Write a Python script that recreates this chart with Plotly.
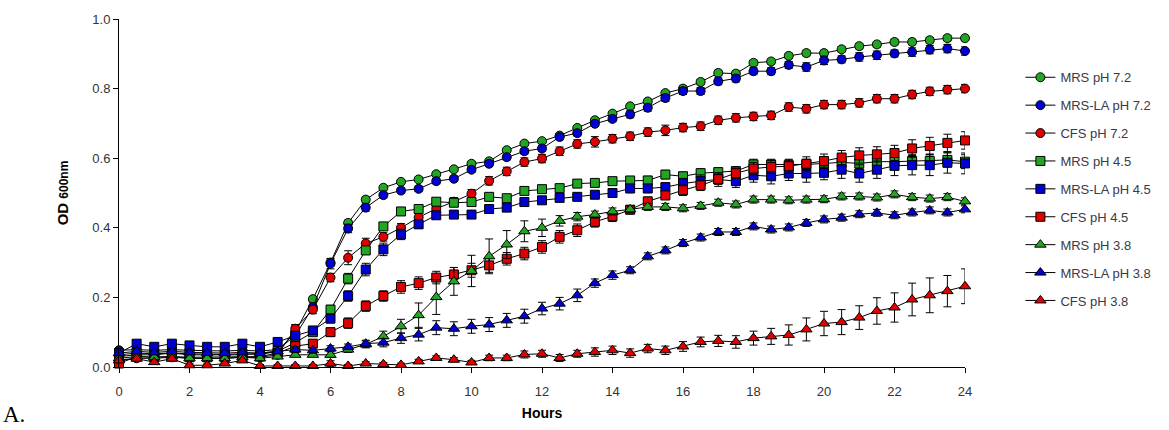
import plotly.graph_objects as go

# Sampling times (hours)
hours = [i * 0.5 for i in range(49)]

# OD600 means per condition
mrs_72 = [0.030, 0.035, 0.035, 0.040, 0.035, 0.035, 0.035, 0.035, 0.040, 0.045,
          0.100, 0.195, 0.300, 0.414, 0.481, 0.515, 0.532, 0.539, 0.554, 0.568,
          0.584, 0.591, 0.623, 0.642, 0.649, 0.665, 0.687, 0.709, 0.728, 0.749,
          0.763, 0.787, 0.800, 0.819, 0.845, 0.843, 0.874, 0.878, 0.894, 0.902,
          0.902, 0.913, 0.922, 0.927, 0.934, 0.934, 0.939, 0.945, 0.945]
mrsla_72 = [0.048, 0.050, 0.048, 0.050, 0.048, 0.046, 0.046, 0.048, 0.046, 0.050,
            0.090, 0.172, 0.297, 0.398, 0.458, 0.494, 0.507, 0.512, 0.534, 0.541,
            0.567, 0.584, 0.603, 0.620, 0.628, 0.661, 0.672, 0.699, 0.713, 0.726,
            0.745, 0.773, 0.793, 0.793, 0.821, 0.829, 0.850, 0.850, 0.868, 0.862,
            0.881, 0.884, 0.891, 0.896, 0.901, 0.905, 0.912, 0.915, 0.908]
cfs_72 = [0.020, 0.025, 0.025, 0.028, 0.025, 0.025, 0.025, 0.028, 0.028, 0.035,
          0.110, 0.165, 0.257, 0.314, 0.355, 0.374, 0.400, 0.430, 0.455, 0.475,
          0.498, 0.535, 0.562, 0.589, 0.599, 0.620, 0.641, 0.647, 0.656, 0.663,
          0.675, 0.680, 0.688, 0.692, 0.709, 0.716, 0.720, 0.723, 0.747, 0.742,
          0.754, 0.754, 0.759, 0.771, 0.771, 0.783, 0.792, 0.797, 0.800]
mrs_45 = [0.035, 0.040, 0.038, 0.040, 0.038, 0.036, 0.036, 0.038, 0.036, 0.045,
          0.070, 0.100, 0.165, 0.254, 0.335, 0.404, 0.447, 0.454, 0.475, 0.472,
          0.474, 0.489, 0.485, 0.506, 0.511, 0.514, 0.527, 0.529, 0.534, 0.536,
          0.536, 0.553, 0.548, 0.557, 0.560, 0.563, 0.582, 0.582, 0.580, 0.582,
          0.585, 0.588, 0.585, 0.590, 0.590, 0.592, 0.592, 0.595, 0.590]
mrsla_45 = [0.040, 0.067, 0.058, 0.067, 0.062, 0.058, 0.058, 0.067, 0.058, 0.072,
            0.090, 0.105, 0.139, 0.204, 0.280, 0.338, 0.381, 0.410, 0.436, 0.438,
            0.438, 0.454, 0.458, 0.474, 0.479, 0.486, 0.489, 0.495, 0.500, 0.513,
            0.513, 0.517, 0.527, 0.534, 0.539, 0.534, 0.551, 0.548, 0.556, 0.556,
            0.558, 0.567, 0.556, 0.567, 0.578, 0.580, 0.580, 0.587, 0.585]
cfs_45 = [0.010, 0.030, 0.028, 0.030, 0.028, 0.028, 0.028, 0.030, 0.030, 0.040,
          0.060, 0.067, 0.100, 0.126, 0.175, 0.204, 0.230, 0.241, 0.257, 0.266,
          0.278, 0.292, 0.311, 0.326, 0.345, 0.374, 0.393, 0.417, 0.433, 0.452,
          0.476, 0.493, 0.508, 0.522, 0.540, 0.557, 0.570, 0.575, 0.577, 0.584,
          0.592, 0.602, 0.608, 0.611, 0.615, 0.628, 0.635, 0.644, 0.651]
mrs_38 = [0.025, 0.030, 0.028, 0.030, 0.025, 0.025, 0.025, 0.028, 0.025, 0.030,
          0.035, 0.035, 0.035, 0.050, 0.065, 0.088, 0.117, 0.149, 0.201, 0.246,
          0.276, 0.318, 0.352, 0.390, 0.400, 0.420, 0.432, 0.438, 0.447, 0.453,
          0.460, 0.460, 0.456, 0.463, 0.472, 0.467, 0.481, 0.481, 0.479, 0.481,
          0.482, 0.490, 0.490, 0.487, 0.496, 0.488, 0.484, 0.488, 0.476]
mrsla_38 = [0.040, 0.045, 0.042, 0.045, 0.042, 0.040, 0.040, 0.042, 0.040, 0.045,
            0.050, 0.048, 0.053, 0.058, 0.067, 0.070, 0.083, 0.093, 0.113, 0.110,
            0.117, 0.122, 0.134, 0.146, 0.168, 0.182, 0.206, 0.241, 0.264, 0.278,
            0.318, 0.335, 0.356, 0.372, 0.388, 0.388, 0.404, 0.395, 0.401, 0.414,
            0.424, 0.429, 0.439, 0.443, 0.436, 0.444, 0.450, 0.444, 0.453]
cfs_38 = [0.019, 0.024, 0.014, 0.024, 0.005, 0.005, 0.010, 0.019, 0.003, 0.003,
          0.003, 0.003, 0.010, 0.003, 0.010, 0.008, 0.006, 0.016, 0.026, 0.021,
          0.013, 0.026, 0.026, 0.036, 0.038, 0.026, 0.038, 0.043, 0.048, 0.040,
          0.053, 0.048, 0.059, 0.072, 0.075, 0.072, 0.083, 0.088, 0.092, 0.108,
          0.125, 0.129, 0.142, 0.161, 0.171, 0.194, 0.206, 0.218, 0.232]

# Standard deviations per condition
sd_mrs_72 = [0.005] * 10 + [0.020, 0.008, 0.010, 0.008, 0.008, 0.006, 0.006, 0.006, 0.006, 0.006,
             0.006, 0.006, 0.006, 0.006, 0.006, 0.006, 0.006, 0.006, 0.006, 0.006,
             0.006, 0.006, 0.008, 0.008, 0.008, 0.008, 0.008, 0.008, 0.008, 0.008,
             0.008, 0.008, 0.008, 0.008, 0.008, 0.008, 0.008, 0.008, 0.008]
sd_mrsla_72 = [0.005] * 10 + [0.010, 0.012, 0.015, 0.012, 0.010, 0.008, 0.008, 0.008, 0.008, 0.008,
               0.008, 0.008, 0.008, 0.008, 0.008, 0.008, 0.008, 0.008, 0.008, 0.010,
               0.010, 0.010, 0.010, 0.010, 0.010, 0.010, 0.010, 0.010, 0.010, 0.012,
               0.012, 0.010, 0.012, 0.012, 0.010, 0.012, 0.012, 0.012, 0.012]
sd_cfs_72 = [0.005] * 10 + [0.012, 0.012, 0.012, 0.020, 0.015, 0.012, 0.012, 0.012, 0.012, 0.012,
             0.012, 0.012, 0.012, 0.012, 0.012, 0.012, 0.012, 0.015, 0.012, 0.012,
             0.012, 0.015, 0.012, 0.012, 0.012, 0.012, 0.012, 0.012, 0.012, 0.012,
             0.012, 0.012, 0.012, 0.012, 0.012, 0.012, 0.012, 0.012, 0.012]
sd_mrs_45 = [0.005] * 10 + [0.010, 0.010, 0.012, 0.015, 0.012, 0.010, 0.010, 0.010, 0.010, 0.010,
             0.010, 0.010, 0.010, 0.010, 0.010, 0.010, 0.010, 0.010, 0.010, 0.010,
             0.012, 0.012, 0.012, 0.012, 0.012, 0.012, 0.015, 0.015, 0.015, 0.015,
             0.015, 0.015, 0.015, 0.018, 0.018, 0.018, 0.020, 0.020, 0.020]
sd_mrsla_45 = [0.008] * 10 + [0.010, 0.010, 0.012, 0.015, 0.018, 0.018, 0.015, 0.012, 0.010, 0.010,
               0.010, 0.010, 0.010, 0.010, 0.010, 0.010, 0.010, 0.010, 0.012, 0.012,
               0.012, 0.012, 0.015, 0.018, 0.020, 0.018, 0.020, 0.022, 0.020, 0.025,
               0.020, 0.025, 0.025, 0.025, 0.028, 0.028, 0.030, 0.030, 0.030]
sd_cfs_45 = [0.005] * 10 + [0.010, 0.010, 0.012, 0.015, 0.015, 0.015, 0.018, 0.018, 0.018, 0.020,
             0.020, 0.020, 0.018, 0.018, 0.018, 0.018, 0.018, 0.015, 0.015, 0.012,
             0.012, 0.012, 0.015, 0.015, 0.015, 0.015, 0.018, 0.018, 0.020, 0.020,
             0.020, 0.020, 0.022, 0.022, 0.022, 0.025, 0.025, 0.025, 0.025]
sd_mrs_38 = [0.005] * 10 + [0.005, 0.005, 0.008, 0.008, 0.010, 0.015, 0.020, 0.035, 0.050, 0.040,
             0.045, 0.050, 0.040, 0.030, 0.025, 0.015, 0.012, 0.010, 0.010, 0.010,
             0.010, 0.010, 0.010, 0.010, 0.010, 0.010, 0.010, 0.010, 0.010, 0.010,
             0.010, 0.010, 0.010, 0.010, 0.010, 0.010, 0.010, 0.010, 0.010]
sd_mrsla_38 = [0.005] * 10 + [0.008, 0.008, 0.008, 0.008, 0.010, 0.012, 0.015, 0.018, 0.020, 0.020,
               0.020, 0.020, 0.020, 0.020, 0.018, 0.018, 0.018, 0.012, 0.012, 0.010,
               0.010, 0.010, 0.010, 0.010, 0.010, 0.010, 0.010, 0.010, 0.010, 0.010,
               0.010, 0.010, 0.010, 0.010, 0.010, 0.010, 0.010, 0.010, 0.010]
sd_cfs_38 = [0.004] * 10 + [0.004, 0.004, 0.008, 0.004, 0.005, 0.005, 0.005, 0.006, 0.006, 0.006,
             0.006, 0.008, 0.008, 0.010, 0.010, 0.010, 0.010, 0.012, 0.012, 0.012,
             0.012, 0.012, 0.014, 0.014, 0.016, 0.018, 0.020, 0.023, 0.029, 0.033,
             0.035, 0.036, 0.034, 0.038, 0.042, 0.047, 0.050, 0.045, 0.050]

series_names = ["MRS pH 7.2", "MRS-LA pH 7.2", "CFS pH 7.2",
                "MRS pH 4.5", "MRS-LA pH 4.5", "CFS pH 4.5",
                "MRS pH 3.8", "MRS-LA pH 3.8", "CFS pH 3.8"]
series_values = [mrs_72, mrsla_72, cfs_72, mrs_45, mrsla_45, cfs_45, mrs_38, mrsla_38, cfs_38]
series_sd = [sd_mrs_72, sd_mrsla_72, sd_cfs_72, sd_mrs_45, sd_mrsla_45, sd_cfs_45,
             sd_mrs_38, sd_mrsla_38, sd_cfs_38]

GREEN = "rgb(34,165,34)"
BLUE = "rgb(0,0,210)"
RED = "rgb(225,0,0)"
colors = [GREEN, BLUE, RED] * 3
symbols = ["circle"] * 3 + ["square"] * 3 + ["triangle-up"] * 3
sizes = [9] * 3 + [9] * 3 + [10] * 3

fig = go.Figure()
for i, (name, y, sd) in enumerate(zip(series_names, series_values, series_sd)):
    fig.add_trace(go.Scatter(
        x=hours, y=y, name=name, mode="lines+markers",
        legendgroup=name,
        line=dict(color="black", width=1),
        marker=dict(symbol=symbols[i], size=sizes[i], color=colors[i],
                    line=dict(color="black", width=1)),
        error_y=dict(type="data", array=sd, visible=True,
                     color="black", thickness=1, width=4),
        cliponaxis=False,
    ))

W, H = 1169, 430
L, R, T, B = 118.5, W - 964.6, 18.7, H - 366.7

fig.update_layout(
    width=W, height=H,
    margin=dict(l=L, r=R, t=T, b=B, pad=0),
    paper_bgcolor="white", plot_bgcolor="white",
    font=dict(family="Arial, Liberation Sans, sans-serif", size=13, color="#333"),
    showlegend=True,
    legend=dict(
        x=(1020 - L) / (W - L - R), y=(366.7 - 62) / (H - T - B),
        xanchor="left", yanchor="top",
        font=dict(size=13, color="#3a3a48"),
        tracegroupgap=8, itemwidth=30,
        bgcolor="rgba(0,0,0,0)",
    ),
    xaxis=dict(
        range=[0, 24], tickmode="array", tickvals=list(range(0, 25, 2)),
        showline=True, linecolor="black", linewidth=1,
        ticks="outside", ticklen=5, tickcolor="black",
        showgrid=False, zeroline=False,
        ticklabelstandoff=7,
        tickfont=dict(size=13, color="#333"),
        title=dict(text="<b>Hours</b>", font=dict(size=14, color="black"), standoff=10),
    ),
    yaxis=dict(
        range=[0, 1.0], tickmode="array", tickvals=[0, 0.2, 0.4, 0.6, 0.8, 1.0],
        tickformat=".1f",
        showline=True, linecolor="black", linewidth=1,
        ticks="outside", ticklen=5, tickcolor="black",
        showgrid=False, zeroline=False,
        tickfont=dict(size=13, color="#333"),
        title=dict(text="<b>OD <span style='font-size:12px'>600nm</span></b>",
                   font=dict(size=15, color="black"), standoff=20),
    ),
    annotations=[dict(
        text="A.", xref="paper", yref="paper",
        x=-L / (W - L - R), y=-(H - 366.7 - 1) / (H - T - B),
        xanchor="left", yanchor="bottom", showarrow=False,
        font=dict(family="Liberation Serif, Times New Roman, serif", size=23, color="black"),
    )],
)

fig.write_html("out.html")
